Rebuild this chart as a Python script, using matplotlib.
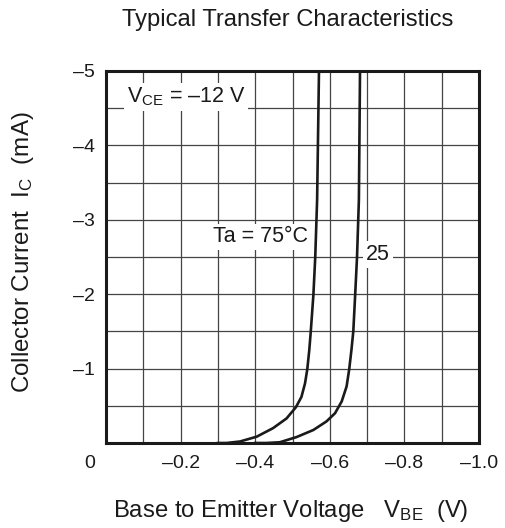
import matplotlib
matplotlib.use("Agg")
import matplotlib.pyplot as plt
from matplotlib.transforms import ScaledTranslation

plt.rcParams['font.family'] = ['Liberation Sans', 'DejaVu Sans']
plt.rcParams['mathtext.fontset'] = 'custom'
plt.rcParams['mathtext.rm'] = 'Liberation Sans'
plt.rcParams['mathtext.it'] = 'Liberation Sans'

# Data (V_BE in V, I_C in mA)
vbe_75 = [-0.30, -0.323, -0.359, -0.404, -0.448, -0.484, -0.509, -0.524, -0.5335, -0.5396,
          -0.545, -0.549, -0.556, -0.561, -0.566, -0.571]
ic_75 = [0.0, 0.0, -0.02, -0.085, -0.20, -0.33, -0.48, -0.62, -0.80, -0.99,
         -1.25, -1.50, -1.99, -2.50, -3.27, -5.0]
vbe_25 = [-0.40, -0.43, -0.466, -0.511, -0.556, -0.591, -0.614, -0.632, -0.645, -0.652,
          -0.658, -0.663, -0.668, -0.673, -0.678, -0.681]
ic_25 = [0.0, 0.0, -0.01, -0.08, -0.175, -0.29, -0.40, -0.56, -0.76, -0.99,
         -1.25, -1.50, -1.99, -2.50, -3.27, -5.0]

xticks = [-0.2, -0.4, -0.6, -0.8, -1.0]
xticklabels = ['\u20130.2', '\u20130.4', '\u20130.6', '\u20130.8', '\u20131.0']
yticks = [-1, -2, -3, -4, -5]
yticklabels = ['\u20131', '\u20132', '\u20133', '\u20134', '\u20135']

fig = plt.figure(figsize=(5.06, 5.28), dpi=100)
ax = fig.add_axes([106/506, 1-443/528, 373/506, 372/528])

ax.set_xlim(0, -1.0)
ax.set_ylim(0, -5)

# grid
for i in range(1, 10):
    ax.axvline(-0.1*i, color='#444444', lw=0.9, zorder=1)
    ax.axhline(-0.5*i, color='#444444', lw=0.9, zorder=1)

ax.plot(vbe_75, ic_75, color='#1a1a1a', lw=1.9, zorder=3, solid_joinstyle='round')
ax.plot(vbe_25, ic_25, color='#1a1a1a', lw=1.9, zorder=3, solid_joinstyle='round')

for s in ax.spines.values():
    s.set_linewidth(2.2)
    s.set_color('#1a1a1a')
    s.set_zorder(5)

ax.set_xticks(xticks)
ax.set_xticklabels(xticklabels)
ax.set_yticks(yticks)
ax.set_yticklabels(yticklabels)
ax.tick_params(length=0, labelsize=14, colors='#1a1a1a')
ax.tick_params(axis='x', pad=9)
ax.tick_params(axis='y', pad=8)

ax.text(0.043, 0, '0', transform=ax.transData + ScaledTranslation(0, -9/72, fig.dpi_scale_trans),
        ha='center', va='top', fontsize=14, color='#1a1a1a')

bbox = dict(facecolor='white', edgecolor='none', pad=2)
ax.text(-0.215, -4.65, 'V$_{\\mathregular{CE}}$ = \u201312 V',
        ha='center', va='center', fontsize=15.5, color='#1a1a1a', bbox=bbox, zorder=4)
ax.text(-0.413, -2.77, 'Ta = 75\u00b0C', ha='center', va='center', fontsize=15.5,
        color='#1a1a1a', bbox=bbox, zorder=4)
ax.text(-0.729, -2.53, '25', ha='center', va='center', fontsize=15.5,
        color='#1a1a1a', bbox=bbox, zorder=4)

fig.text(288/506, 1-20/528, 'Typical Transfer Characteristics', ha='center', va='center',
         fontsize=17.1, color='#1a1a1a')
fig.text(291/506, 1-511/528, 'Base to Emitter Voltage   V$_{\\mathregular{BE}}$  (V)',
         ha='center', va='center', fontsize=17.2, color='#1a1a1a')
fig.text(23/506, 1-252/528, 'Collector Current  I$_{\\mathregular{C}}$  (mA)',
         ha='center', va='center', rotation=90, fontsize=17.4, color='#1a1a1a')

fig.savefig('out.png', dpi=100)
